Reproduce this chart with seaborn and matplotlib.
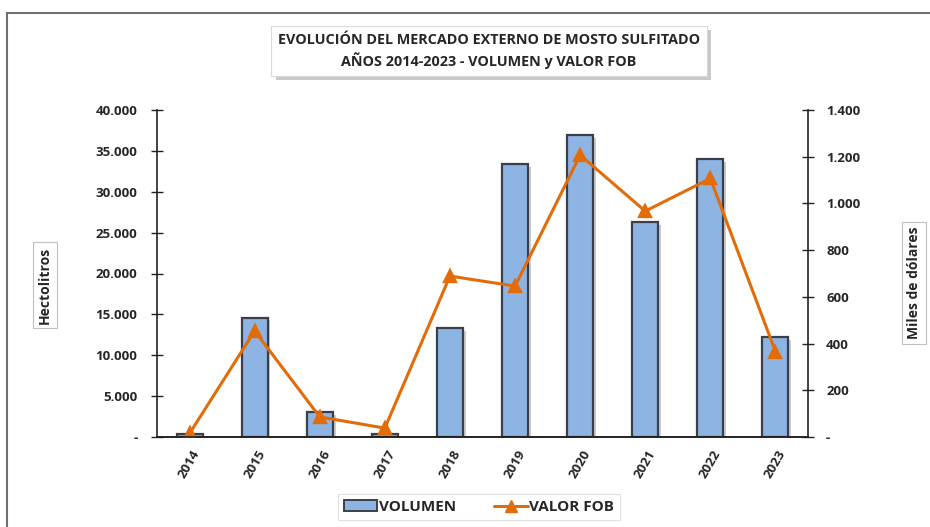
import numpy as np
import pandas as pd
import seaborn as sns
import matplotlib.pyplot as plt
import matplotlib.patheffects as pe
from matplotlib.ticker import FuncFormatter, MultipleLocator, FixedLocator
from matplotlib.patches import Rectangle, Patch
from matplotlib.lines import Line2D

# data
years = ['2014', '2015', '2016', '2017', '2018', '2019', '2020', '2021', '2022', '2023']
volumen = [350, 14600, 3000, 350, 13300, 33400, 36900, 26300, 34000, 12200]   # hectolitros
valor_fob = [15, 454, 86, 38, 689, 646, 1207, 967, 1107, 366]                 # miles de dolares

df = pd.DataFrame({'Año': years, 'Volumen': volumen, 'Valor FOB': valor_fob})

sns.set_style('white')
plt.rcParams['font.family'] = ['Open Sans', 'DejaVu Sans']

bar_color = '#8DB4E2'
line_color = '#E36C09'

fig = plt.figure(figsize=(9.3, 5.27), dpi=100)
ax = fig.add_axes([157 / 930, 1 - 437 / 527, 651 / 930, 327 / 527])

sns.barplot(data=df, x='Año', y='Volumen', ax=ax, color=bar_color, width=0.4,
            edgecolor='#3A3F4A', linewidth=1.6, saturation=1)
for p in ax.patches:
    p.set_path_effects([pe.SimplePatchShadow(offset=(2, -2), alpha=0.25), pe.Normal()])

ax2 = ax.twinx()
sns.pointplot(data=df, x='Año', y='Valor FOB', ax=ax2, color=line_color,
              markers='^', markersize=9, linewidth=2.2)

ax.set_xlim(-0.5, len(years) - 0.5)
ax2.set_xlim(-0.5, len(years) - 0.5)
ax.set_ylim(0, 40000)
ax2.set_ylim(0, 1400)


def miles(v, pos):
    if v == 0:
        return '-'
    return f'{v:,.0f}'.replace(',', '.')


ax.yaxis.set_major_locator(MultipleLocator(5000))
ax.yaxis.set_major_formatter(FuncFormatter(miles))
ax2.yaxis.set_major_locator(MultipleLocator(200))
ax2.yaxis.set_major_formatter(FuncFormatter(miles))

ax.set_xlabel('')
ax.set_ylabel('')
ax2.set_xlabel('')
ax2.set_ylabel('')

# category boundaries as crossing ticks, labels at centres
ax.xaxis.set_minor_locator(FixedLocator(np.arange(-0.5, len(years), 1)))
ax.tick_params(axis='x', which='major', length=0, pad=8)
ax.tick_params(axis='x', which='minor', direction='inout', length=8, width=1, color='#222222')
ax.tick_params(axis='y', direction='inout', length=8, width=1, color='#222222', pad=10)
ax2.tick_params(axis='y', direction='inout', length=8, width=1, color='#222222', pad=9)
for lab in ax.get_xticklabels():
    lab.set_rotation(60)
    lab.set_fontweight('bold')
    lab.set_fontsize(9.5)
    lab.set_ha('center')
    lab.set_va('top')
for lab in ax.get_yticklabels() + ax2.get_yticklabels():
    lab.set_fontweight('bold')
    lab.set_fontsize(9.5)

for a in (ax, ax2):
    a.spines['top'].set_visible(False)
    for s in ('left', 'right', 'bottom'):
        a.spines[s].set_color('#222222')
        a.spines[s].set_linewidth(1.2)
ax2.spines['left'].set_visible(False)
ax.spines['right'].set_visible(False)

# outer frame of the chart
fig.patches.append(Rectangle((7 / 930, -0.05), 1.0, 1 - 13 / 527 + 0.05, transform=fig.transFigure,
                             fill=False, edgecolor='#707070', linewidth=1.5))

# title in a box with shadow
fig.text(489 / 930, 1 - 51 / 527,
         'EVOLUCIÓN DEL MERCADO EXTERNO DE MOSTO SULFITADO\nAÑOS 2014-2023 - VOLUMEN y VALOR FOB',
         ha='center', va='center', fontsize=10.4, fontweight='bold', linespacing=1.45,
         bbox=dict(boxstyle='square,pad=0.45', facecolor='white', edgecolor='#D9D9D9', linewidth=0.8,
                   path_effects=[pe.SimplePatchShadow(offset=(3, -3), alpha=0.3), pe.Normal()]))

# axis titles in light boxes
box = dict(boxstyle='square,pad=0.35', facecolor='white', edgecolor='#BFBFBF', linewidth=0.8)
fig.text(45 / 930, 1 - 285 / 527, 'Hectolitros', rotation=90, ha='center', va='center',
         fontsize=10, fontweight='bold', bbox=box)
fig.text(914 / 930, 1 - 283 / 527, 'Miles de dólares', rotation=90, ha='center', va='center',
         fontsize=10, fontweight='bold', bbox=box)

handles = [Patch(facecolor=bar_color, edgecolor='#3A3F4A', linewidth=1.4, label='VOLUMEN'),
           Line2D([], [], color=line_color, marker='^', markersize=9, linewidth=2.2, label='VALOR FOB')]
leg = fig.legend(handles=handles, loc='center', bbox_to_anchor=(479 / 930, 1 - 507 / 527), ncol=2,
                 frameon=True, fancybox=False, edgecolor='#D9D9D9', handlelength=2.2,
                 handletextpad=0.1, columnspacing=2.5, borderpad=0.4,
                 prop={'weight': 'bold', 'size': 11})
leg.get_frame().set_linewidth(0.8)

fig.savefig('out.png', dpi=100)
